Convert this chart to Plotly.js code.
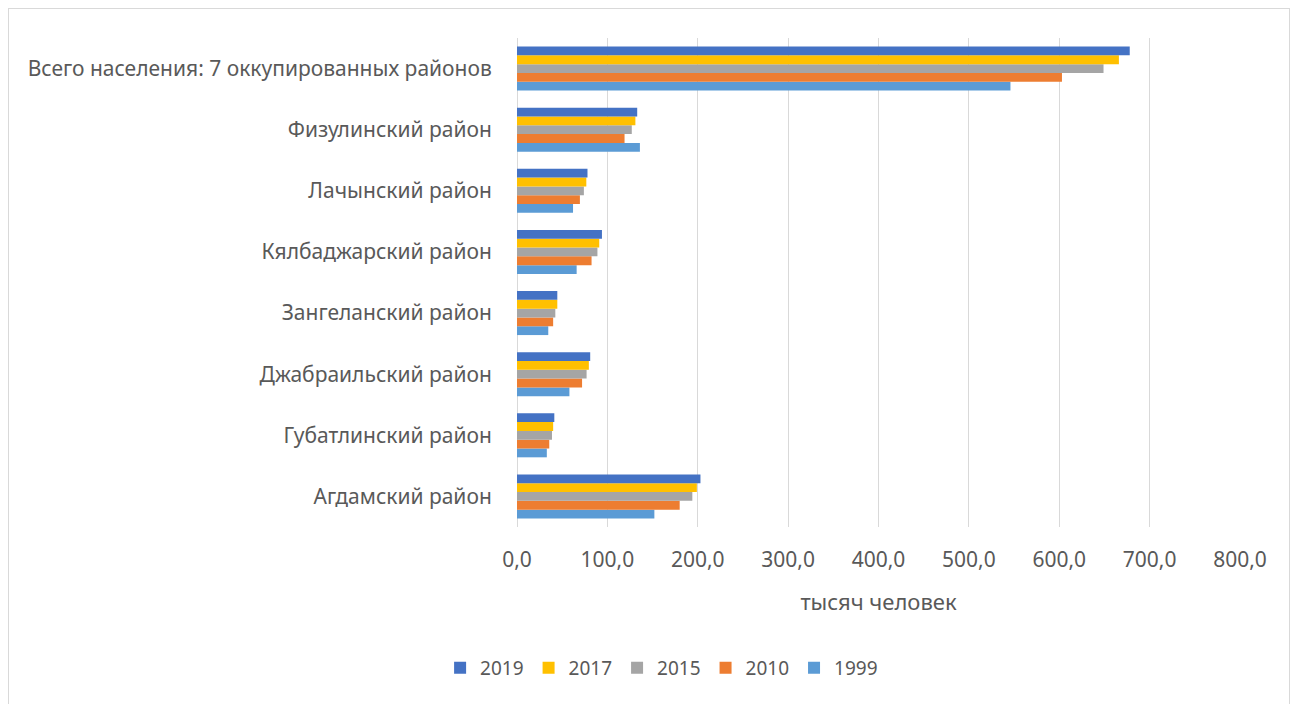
<!DOCTYPE html>
<html>
<head>
<meta charset="utf-8">
<script src="https://cdn.plot.ly/plotly-3.0.1.min.js"></script>
<style>
  html, body { margin: 0; padding: 0; background: #ffffff; }
  #wrap { position: relative; width: 1297px; height: 704px; }
  #chart { position: absolute; left: 0; top: 0; width: 1297px; height: 704px; }
  #frame { position: absolute; left: 8px; top: 8px; width: 1282px; height: 700px; border: 1px solid #d9d9d9; box-sizing: border-box; pointer-events: none; }
</style>
</head>
<body>
<div id="wrap">
  <div id="chart"></div>
  <div id="frame"></div>
</div>
<script>
const categories = [
  "Агдамский район",
  "Губатлинский район",
  "Джабраильский район",
  "Зангеланский район",
  "Кялбаджарский район",
  "Лачынский район",
  "Физулинский район",
  "Всего населения: 7 оккупированных районов"
];
const years = ["1999", "2010", "2015", "2017", "2019"];
const values1999 = [152, 33, 58, 34.6, 66, 62, 136, 546];
const values2010 = [180, 35.7, 72, 40, 82.5, 69.6, 119, 603];
const values2015 = [194, 38.7, 77, 42.4, 89, 74, 127, 649];
const values2017 = [199, 40, 79.5, 44.6, 91, 76.7, 131, 666];
const values2019 = [203, 41.3, 81, 44.6, 94, 78, 133, 678];
const seriesValues = [values1999, values2010, values2015, values2017, values2019];
const colors = ["#5B9BD5", "#ED7D31", "#A5A5A5", "#FFC000", "#4472C4"];
const tickVals = [0, 100, 200, 300, 400, 500, 600, 700, 800];

const traces = years.map((yr, i) => ({
  type: "bar",
  orientation: "h",
  name: yr,
  y: categories,
  x: seriesValues[i],
  marker: { color: colors[i] },
  hoverinfo: "x+name"
}));

const font = "'Noto Sans', 'Open Sans', sans-serif";
const layout = {
  width: 1297,
  height: 704,
  margin: { l: 517, r: 57, t: 38, b: 177 },
  paper_bgcolor: "rgba(0,0,0,0)",
  plot_bgcolor: "#ffffff",
  separators: ", ",
  barmode: "group",
  bargap: 0.28,
  bargroupgap: 0,
  font: { family: font, size: 20, color: "#595959" },
  xaxis: {
    range: [0, 800],
    tickvals: tickVals,
    tickformat: ".1f",
    showgrid: true,
    gridcolor: "#d9d9d9",
    gridwidth: 1,
    zeroline: true,
    zerolinecolor: "#d9d9d9",
    ticks: "outside",
    ticklen: 14,
    tickcolor: "rgba(0,0,0,0)",
    tickfont: { family: font, size: 21, color: "#595959" },
    title: { text: "тысяч человек", font: { family: font, size: 22, color: "#595959" }, standoff: 22 },
    fixedrange: true
  },
  yaxis: {
    showgrid: false,
    zeroline: false,
    ticks: "outside",
    ticklen: 20,
    tickcolor: "rgba(0,0,0,0)",
    tickfont: { family: font, size: 21, color: "#595959" },
    automargin: false,
    fixedrange: true
  },
  legend: {
    orientation: "h",
    x: 0.2,
    xanchor: "center",
    y: -0.288,
    yanchor: "middle",
    traceorder: "reversed",
    font: { family: font, size: 19, color: "#595959" },
    itemwidth: 30,
    itemclick: false
  },
  showlegend: true
};

Plotly.newPlot("chart", traces, layout, { displayModeBar: false, staticPlot: true });
</script>
</body>
</html>
